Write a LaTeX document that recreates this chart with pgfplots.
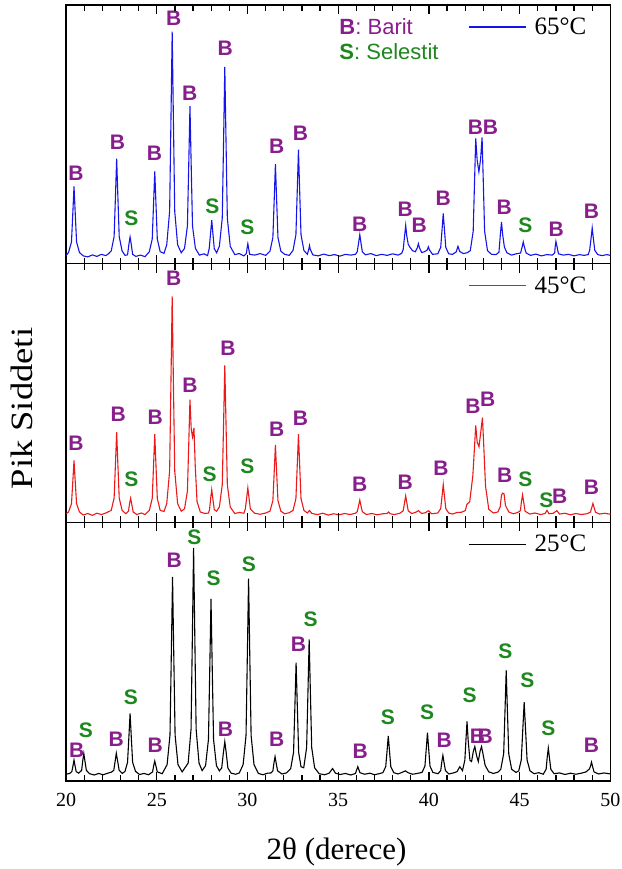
\documentclass[border=0pt]{standalone}
\usepackage{graphicx}
\usepackage{fontspec}
\setmainfont{Liberation Serif}
\newfontfamily\lblfont{Liberation Sans}
\usepackage{pgfplots}
\pgfplotsset{compat=1.18}
\usepgfplotslibrary{groupplots}
\usetikzlibrary{calc}

\definecolor{barit}{RGB}{135,30,140}
\definecolor{selestit}{RGB}{30,135,30}
\definecolor{xblue}{RGB}{20,20,235}
\definecolor{xred}{RGB}{235,25,25}

\tikzset{
  lb/.style={font=\lblfont\bfseries\fontsize{21}{21}\selectfont, text=barit, inner sep=0pt},
  ls/.style={font=\lblfont\bfseries\fontsize{21}{21}\selectfont, text=selestit, inner sep=0pt},
}
\newcommand\lB[2]{\node[lb] at (axis cs:#1,#2) {B};}
\newcommand\lS[2]{\node[ls] at (axis cs:#1,#2) {S};}

\pgfplotsset{
  xrd/.style={
    scale only axis, width=544pt, height=258.5pt,
    xmin=20, xmax=50, ymin=0, ymax=100,
    xtick={20,25,30,35,40,45,50},
    ytick=\empty,
    tick align=inside, tick pos=both,
    major tick length=0pt,
    axis line style={line width=1.3pt},
    xticklabel style={font=\fontsize{20}{24}\selectfont, yshift=-9pt},
    /pgf/number format/assume math mode=true,
    legend style={draw=none, fill=none, inner sep=0pt,
      at={(axis description cs:0.739,0.915)}, anchor=west,
      font=\fontsize{25}{28}\selectfont},
    legend image code/.code={\draw[#1, line width=1.3pt] (0pt,0pt) -- (57pt,0pt); \path (63pt,0pt);},
    every axis plot/.append style={line width=1.1pt},
  }
}

\begin{document}
\begin{tikzpicture}
\begin{groupplot}[
  group style={group size=1 by 3, vertical sep=0pt,
    xticklabels at=edge bottom, xlabels at=edge bottom},
  xrd]

% ---------------- 65 C ----------------
\nextgroupplot
\addplot[xblue] table {
20.00 3.2
20.14 4.3
20.30 8.4
20.38 20.5
20.44 29.9
20.50 20.5
20.58 8.4
20.74 4.3
20.95 3.0
21.20 2.6
21.45 3.4
21.70 2.8
21.95 3.6
22.20 3.1
22.35 3.9
22.49 4.9
22.65 10.5
22.73 27.4
22.79 40.6
22.85 27.4
22.93 10.5
23.09 4.9
23.25 3.2
23.39 3.4
23.47 7.7
23.53 10.3
23.59 7.7
23.67 3.6
23.85 2.8
24.10 3.3
24.35 2.7
24.59 4.6
24.75 9.5
24.83 24.3
24.89 35.7
24.95 24.3
25.03 9.5
25.19 4.6
25.40 4.0
25.55 7.3
25.71 20.3
25.79 59.4
25.85 89.7
25.91 59.4
25.99 20.3
26.15 7.3
26.35 4.2
26.53 5.9
26.69 14.6
26.77 40.6
26.83 60.9
26.89 40.6
26.97 14.6
27.13 5.9
27.35 3.3
27.60 3.8
27.80 3.1
27.89 5.8
27.97 12.0
28.03 16.8
28.09 12.0
28.17 5.8
28.30 4.2
28.45 6.7
28.61 17.6
28.69 50.5
28.75 76.1
28.81 50.5
28.89 17.6
29.05 6.7
29.30 3.5
29.55 3.9
29.80 3.0
29.94 3.9
29.98 6.1
30.02 7.7
30.06 6.1
30.12 3.6
30.40 3.3
30.70 3.9
31.00 3.2
31.24 4.8
31.40 10.1
31.48 26.1
31.54 38.5
31.60 26.1
31.68 10.1
31.84 4.8
32.05 3.6
32.30 3.2
32.51 5.1
32.67 11.2
32.75 29.7
32.81 44.1
32.87 29.7
32.95 11.2
33.11 5.1
33.30 3.6
33.38 5.6
33.42 7.0
33.46 5.6
33.60 3.4
33.90 3.0
34.20 3.7
34.50 3.1
34.80 3.5
35.10 2.9
35.40 3.6
35.70 3.3
35.95 3.6
36.05 4.6
36.13 8.3
36.19 11.2
36.25 8.3
36.33 4.6
36.50 3.4
36.80 3.9
37.10 3.1
37.40 3.6
37.70 3.2
38.00 3.8
38.30 3.3
38.50 4.0
38.58 5.4
38.66 10.7
38.72 14.8
38.78 10.7
38.86 7.5
38.95 6.4
39.10 5.0
39.25 4.6
39.36 6.1
39.42 7.7
39.48 6.1
39.60 4.3
39.75 4.6
39.91 5.3
39.97 6.5
40.03 5.3
40.20 3.6
40.49 3.8
40.65 6.3
40.73 13.7
40.79 19.4
40.85 13.7
40.93 6.3
41.09 3.8
41.30 3.6
41.50 4.5
41.60 6.7
41.70 4.7
41.90 3.9
42.10 4.2
42.28 5.0
42.44 12.5
42.52 33.0
42.58 48.4
42.66 40.0
42.755 35.5
42.85 40.5
42.93 48.8
42.99 33.5
43.07 12.5
43.23 5.0
43.45 3.6
43.70 3.5
43.86 4.4
43.94 11.5
44.00 16.1
44.06 11.5
44.16 6.4
44.30 4.2
44.55 3.3
44.80 3.8
45.05 4.1
45.14 6.5
45.20 8.4
45.26 6.5
45.36 4.1
45.60 3.2
45.90 3.7
46.20 3.0
46.50 3.5
46.80 3.3
46.93 4.1
46.96 6.6
47.00 8.6
47.06 6.6
47.14 3.8
47.40 3.3
47.70 3.6
48.00 3.0
48.30 3.5
48.55 3.2
48.78 3.5
48.86 5.2
48.94 10.0
49.00 13.8
49.06 10.0
49.14 5.2
49.30 3.5
49.55 3.1
49.80 3.5
50.00 3.2
};
\addlegendentry{65°C}
\lB{20.55}{34.8} \lB{22.84}{47.0} \lS{23.60}{17.4} \lB{24.87}{42.6}
\lB{25.93}{94.8} \lB{26.81}{65.8} \lS{28.07}{22.2} \lB{28.77}{83.2}
\lS{29.99}{14.2} \lB{31.61}{45.2} \lB{32.92}{50.3} \lB{36.19}{15.2}
\lB{38.70}{20.9} \lB{39.46}{14.8} \lB{40.79}{25.2}
\node[lb] at (axis cs:42.98,52.9) {BB};
\lB{44.15}{21.9} \lS{45.31}{14.8} \lB{47.01}{13.2} \lB{48.96}{20.4}
\node[anchor=west, inner sep=0pt, font=\lblfont\fontsize{22}{25}\selectfont, text=barit]
  at (axis description cs:0.502,0.915) {\textbf{B}: Barit};
\node[anchor=west, inner sep=0pt, font=\lblfont\fontsize{22}{25}\selectfont, text=selestit]
  at (axis description cs:0.502,0.818) {\textbf{S}: Selestit};

% ---------------- 45 C ----------------
\nextgroupplot[ylabel={\scalebox{1.18}[1]{Pik Siddeti}},
  ylabel style={at={(axis description cs:-0.081,0.44)}, anchor=center,
    font=\fontsize{31}{36}\selectfont}]
\addplot[xred] table {
20.00 3.3
20.14 4.0
20.30 7.2
20.38 16.6
20.44 23.9
20.50 16.6
20.58 7.2
20.74 4.0
20.95 2.8
21.20 3.4
21.45 2.7
21.70 3.5
21.95 3.0
22.20 3.6
22.49 4.6
22.65 9.4
22.73 23.7
22.79 34.9
22.85 23.7
22.93 9.4
23.09 4.6
23.30 3.3
23.44 4.3
23.50 7.1
23.56 9.3
23.62 7.1
23.70 4.0
23.90 3.0
24.15 3.6
24.35 3.0
24.59 4.6
24.75 9.2
24.83 23.2
24.89 34.1
24.95 23.2
25.03 9.2
25.19 4.6
25.40 4.2
25.55 7.2
25.71 19.9
25.79 57.8
25.85 87.3
25.91 57.8
25.99 19.9
26.15 7.2
26.35 4.3
26.53 5.2
26.69 12.0
26.77 32.0
26.83 47.4
26.90 36.0
26.97 33.0
27.05 36.5
27.12 22.0
27.22 8.0
27.40 4.0
27.65 3.4
27.85 3.6
27.91 4.9
27.97 9.2
28.03 12.6
28.09 9.2
28.17 4.9
28.30 4.3
28.45 5.9
28.61 14.5
28.69 40.5
28.75 60.7
28.81 40.5
28.89 14.5
29.05 5.9
29.30 3.4
29.55 3.8
29.80 3.5
29.88 5.1
29.96 9.7
30.02 13.3
30.08 9.7
30.16 5.1
30.40 3.5
30.70 3.1
31.00 3.6
31.24 4.3
31.40 8.4
31.48 20.5
31.54 29.9
31.60 20.5
31.68 8.4
31.84 4.3
32.05 3.3
32.30 3.7
32.51 4.6
32.67 9.2
32.75 23.2
32.81 34.1
32.87 23.2
32.95 9.2
33.11 4.6
33.30 3.6
33.42 4.6
33.55 3.4
33.85 3.0
34.15 3.5
34.45 2.8
34.75 3.3
35.05 2.9
35.35 3.4
35.65 3.0
35.95 3.5
36.05 4.1
36.13 6.6
36.19 8.6
36.25 6.6
36.33 4.1
36.55 3.0
36.85 3.4
37.15 2.9
37.45 3.3
37.70 3.4
37.78 4.0
37.86 3.3
38.10 3.0
38.40 3.5
38.58 4.4
38.66 7.7
38.72 10.2
38.78 7.7
38.86 4.4
39.05 3.4
39.25 3.8
39.42 4.5
39.60 3.4
39.80 3.7
39.97 4.5
40.15 3.3
40.49 3.6
40.65 5.3
40.73 10.5
40.79 14.6
40.85 10.5
40.93 5.3
41.09 3.6
41.30 3.2
41.55 3.8
41.80 3.9
42.00 4.5
42.10 7.0
42.25 8.0
42.42 18.0
42.52 30.0
42.58 37.5
42.66 31.0
42.76 29.2
42.86 35.0
42.95 40.5
43.02 30.0
43.12 14.0
43.30 5.0
43.55 3.6
43.80 4.0
43.93 6.0
44.00 10.5
44.07 11.3
44.14 11.0
44.22 6.5
44.40 4.0
44.65 3.3
44.90 3.8
45.04 4.5
45.10 8.0
45.16 10.6
45.22 8.0
45.30 4.3
45.55 3.2
45.85 3.6
46.15 3.0
46.40 3.4
46.51 4.6
46.62 3.3
46.85 3.5
47.05 4.5
47.20 3.2
47.50 3.5
47.80 2.9
48.10 3.4
48.40 3.0
48.70 3.3
48.90 3.9
48.98 5.8
49.04 7.3
49.10 5.8
49.18 3.9
49.40 3.2
49.70 3.5
50.00 3.1
};
\addlegendentry{45°C}
\lB{20.55}{30.5} \lB{22.88}{41.6} \lS{23.60}{16.6} \lB{24.91}{40.5}
\lB{25.93}{94.3} \lB{26.83}{53.1} \lS{27.92}{18.6} \lB{28.92}{67.3}
\lS{29.99}{21.5} \lB{31.61}{35.9} \lB{32.92}{40.2} \lB{36.19}{14.6}
\lB{38.70}{15.3} \lB{40.66}{20.8} \lB{42.43}{44.8} \lB{43.24}{47.4}
\lB{44.18}{18.2} \lS{45.31}{16.6} \lS{46.47}{8.6} \lB{47.21}{10.0}
\lB{48.96}{13.7}

% ---------------- 25 C ----------------
\nextgroupplot[xlabel={2θ (derece)},
  xlabel style={at={(axis description cs:0.497,-0.275)}, anchor=center,
    font=\fontsize{31}{36}\selectfont}]
\addplot[black] table {
20.00 2.6
20.20 2.9
20.32 3.6
20.39 6.1
20.44 8.1
20.49 6.1
20.56 3.6
20.70 3.0
20.86 4.1
20.92 7.8
20.98 10.6
21.04 7.8
21.12 4.1
21.30 2.8
21.55 2.3
21.80 2.9
22.05 2.4
22.30 3.0
22.50 3.4
22.63 4.1
22.71 7.8
22.77 10.7
22.84 7.8
22.93 4.1
23.10 2.9
23.25 3.7
23.39 7.2
23.47 17.8
23.53 26.1
23.59 17.8
23.67 7.2
23.83 3.7
24.05 2.5
24.30 2.9
24.55 2.4
24.77 3.5
24.83 5.9
24.89 7.7
24.95 5.9
25.03 3.5
25.30 2.8
25.57 6.3
25.73 17.8
25.81 52.2
25.87 78.9
25.93 52.2
26.01 17.8
26.17 6.3
26.40 3.5
26.73 6.9
26.89 20.0
26.97 59.4
27.03 90.1
27.09 59.4
27.17 20.0
27.33 6.9
27.50 4.0
27.69 5.9
27.85 16.1
27.93 46.6
27.99 70.4
28.05 46.6
28.13 16.1
28.29 5.9
28.45 3.9
28.58 5.0
28.67 10.8
28.75 15.2
28.83 10.8
28.92 5.0
29.10 3.0
29.35 2.6
29.55 3.1
29.76 6.3
29.92 17.6
30.00 51.7
30.06 78.2
30.12 51.7
30.20 17.6
30.36 6.3
30.60 2.9
30.85 2.4
31.10 3.0
31.30 3.1
31.40 3.9
31.46 7.0
31.52 9.4
31.58 7.0
31.66 3.9
31.90 2.7
32.15 3.1
32.38 4.7
32.54 11.1
32.62 30.6
32.68 45.7
32.74 30.6
32.82 11.1
32.95 5.5
33.10 5.1
33.26 12.9
33.34 36.4
33.40 54.7
33.46 36.4
33.54 12.9
33.70 5.1
33.95 2.8
34.25 2.4
34.50 3.0
34.69 4.8
34.85 3.0
35.10 2.5
35.40 2.9
35.70 2.3
35.95 2.9
36.08 5.5
36.20 3.2
36.45 2.6
36.75 3.0
37.00 2.4
37.25 2.8
37.46 3.2
37.62 5.5
37.70 12.2
37.76 17.4
37.82 12.2
37.90 5.5
38.06 3.2
38.30 2.7
38.55 3.4
38.70 3.9
38.85 3.2
39.10 2.6
39.35 2.9
39.62 3.3
39.78 5.7
39.86 13.0
39.92 18.7
39.98 13.0
40.06 5.7
40.22 3.3
40.50 2.8
40.65 4.0
40.71 7.3
40.77 9.9
40.83 7.3
40.91 4.0
41.10 2.7
41.35 3.1
41.55 3.6
41.70 5.5
41.85 4.0
41.98 8.0
42.05 17.0
42.10 23.0
42.16 16.0
42.26 8.0
42.35 7.5
42.45 11.5
42.53 13.3
42.62 10.0
42.72 7.5
42.82 11.5
42.90 13.3
42.98 10.5
43.10 6.0
43.30 3.5
43.55 2.9
43.80 3.4
43.96 4.5
44.12 10.5
44.20 28.6
44.26 42.7
44.32 28.6
44.40 10.5
44.56 4.5
44.80 3.3
44.95 3.9
45.09 8.1
45.18 20.7
45.25 30.5
45.32 20.7
45.41 8.1
45.57 3.9
45.80 2.8
46.05 3.2
46.30 2.6
46.46 4.5
46.52 9.1
46.58 12.7
46.64 9.1
46.72 4.5
46.90 2.8
47.20 3.1
47.50 2.5
47.80 3.0
48.10 2.6
48.40 3.0
48.66 3.5
48.84 4.6
48.90 5.6
48.96 7.3
49.02 5.6
49.10 3.5
49.35 2.7
49.65 3.1
50.00 2.7
};
\addlegendentry{25°C}
\lB{20.59}{12.0} \lS{21.09}{19.7} \lB{22.77}{16.1} \lS{23.58}{32.2}
\lB{24.91}{13.8} \lB{25.96}{85.2} \lS{27.07}{94.3} \lS{28.14}{78.5}
\lB{28.79}{19.9} \lS{30.08}{83.9} \lB{31.61}{16.1} \lB{32.81}{52.8}
\lS{33.48}{62.4} \lB{36.21}{11.6} \lS{37.74}{24.5} \lS{39.90}{26.4}
\lB{40.84}{15.7} \lS{42.24}{33.1} \lB{42.68}{17.4} \lB{43.10}{17.4}
\lS{44.22}{50.2} \lS{45.42}{38.9} \lS{46.58}{20.3} \lB{48.96}{13.9}
\end{groupplot}
% inward tick marks, every 1 degree, longer every 5 degrees, top and bottom of each panel
\foreach \r in {1,2,3}{
  \foreach \k in {1,...,29}{
    \pgfmathsetmacro\tl{ifthenelse(mod(\k,5)==0,9,6)}
    \draw[black, line width=1.3pt]
      ($(group c1r\r.south west)!\k/30!(group c1r\r.south east)$) -- ++(0pt,\tl pt);
    \draw[black, line width=1.3pt]
      ($(group c1r\r.north west)!\k/30!(group c1r\r.north east)$) -- ++(0pt,-\tl pt);
  }
}
\path (group c1r1.north west) ++(-66pt,5pt) coordinate (bbA);
\path (group c1r3.south east) ++(11pt,-88pt) coordinate (bbB);
\pgfresetboundingbox
\path[use as bounding box] (bbA) rectangle (bbB);
\end{tikzpicture}
\end{document}
